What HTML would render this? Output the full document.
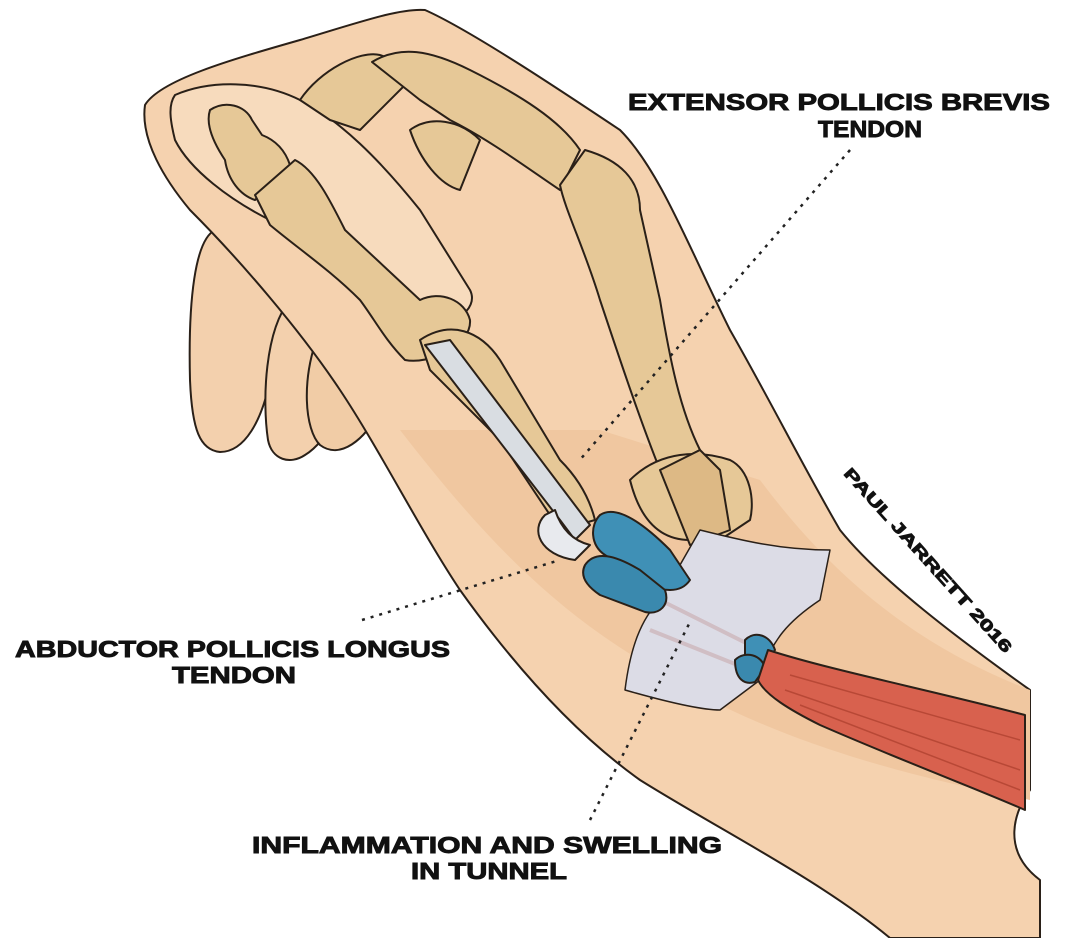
<!DOCTYPE html>
<html><head><meta charset="utf-8"><style>
html,body{margin:0;padding:0;background:#fff;width:1079px;height:938px;overflow:hidden}
svg{display:block}
text{font-family:"Liberation Sans",sans-serif;font-weight:bold;fill:#111}
</style></head><body>
<svg width="1079" height="938" viewBox="0 0 1079 938" xmlns="http://www.w3.org/2000/svg">
<g stroke="#2a2018" stroke-width="2" stroke-linejoin="round">
<path d="M215,230 C195,240 188,300 190,380 C192,430 200,450 220,452 C245,452 262,420 270,380 L300,300 C290,250 250,220 215,230Z" fill="#f3d0ad"/>
<path d="M290,300 C265,330 262,400 268,440 C272,460 290,465 305,455 C330,440 345,400 360,360 Z" fill="#f3d0ad"/>
<path d="M320,330 C300,380 305,430 320,445 C340,460 365,440 380,410 L370,340Z" fill="#f1cca6"/>
<path d="M145,105 C160,80 230,60 300,40 C360,22 400,8 425,10 C470,30 560,90 620,130 C660,170 690,250 730,330 C770,400 805,470 840,530 C880,580 960,640 1030,690 L1030,790 C1015,810 1000,850 1040,880 L1040,938 L890,938 C820,880 720,830 640,780 C570,730 510,660 460,590 C420,530 380,450 340,390 C300,330 240,260 190,210 C165,180 140,140 145,105Z" fill="#f5d2af"/>
<path d="M175,95 C210,80 260,80 300,100 C340,120 380,160 420,210 L470,290 C480,310 450,330 420,320 C380,300 320,250 270,220 C230,200 190,170 175,140 C170,120 168,105 175,95Z" fill="#f7dbbd"/>
<path d="M400,430 C470,520 540,600 640,660 C720,710 820,760 1030,800 L1030,690 C900,640 820,560 760,480 L600,430Z" fill="#f0c7a0" stroke="none"/>
<g fill="#e6c897">
<path d="M210,110 C225,100 245,105 252,120 L262,135 C275,140 285,150 290,165 L255,200 C240,195 228,180 225,160 C215,145 205,125 210,110Z"/>
<path d="M255,195 L295,160 C315,170 330,200 345,230 L420,300 C440,290 465,300 470,320 C472,345 430,365 405,360 C385,340 375,320 360,300 C330,270 300,250 270,225Z"/>
<path d="M300,100 C320,70 360,50 380,55 L420,70 C400,90 380,110 360,130 L330,120Z"/>
<path d="M372,62 C400,45 430,50 470,70 C520,95 560,120 580,150 L560,190 C530,170 490,140 450,120 L420,100Z"/>
<path d="M560,185 L585,150 C620,160 640,180 640,210 L660,300 C670,360 680,410 700,450 L660,470 C640,420 620,360 600,300 C585,250 565,210 560,185Z"/>
<path d="M410,130 C430,115 460,120 480,140 L460,190 C440,185 420,160 410,130Z"/>
<path d="M420,340 C450,320 480,330 500,360 L560,460 C580,480 590,500 595,520 L560,530 C540,500 520,470 500,440 L430,370Z"/>
<path d="M630,480 C660,450 700,450 730,460 C750,470 755,500 750,520 L720,540 L690,540 C660,540 640,520 630,480Z"/>
<path d="M660,470 L700,450 L720,470 L730,530 L690,545Z" fill="#ddb985"/>
</g>
<path d="M425,345 L560,520 L575,540 L590,525 L450,340Z" fill="#d9dde2"/>
<path d="M545,515 C530,530 540,555 575,560 L590,545 C570,540 560,525 555,510Z" fill="#e8eaee"/>
<path d="M700,530 C740,540 780,550 830,550 L820,600 C790,620 770,640 760,680 L720,710 C700,710 660,700 625,690 C630,650 640,620 660,600Z" fill="#dcdce6" stroke-width="1.5"/>
<path d="M660,600 L760,650 M650,630 L750,670" stroke="#b88" stroke-width="4" opacity="0.35"/>
<path d="M600,515 C615,505 640,520 670,550 L690,580 C680,595 660,590 650,585 L605,555 C590,545 590,525 600,515Z" fill="#3f90b6"/>
<path d="M585,565 C595,550 615,555 640,570 L665,590 C670,605 660,615 645,612 L600,595 C585,585 580,575 585,565Z" fill="#3a89ae"/>
<path d="M745,640 C755,630 770,635 775,650 L765,665 L745,660Z" fill="#3f90b6"/>
<path d="M735,660 C745,650 762,655 765,668 L755,682 C745,685 735,680 735,660Z" fill="#3a89ae"/>
<path d="M768,650 C830,670 930,690 1025,715 L1025,810 C980,790 900,760 820,725 C790,710 765,695 758,680Z" fill="#d8614e"/>
<path d="M790,675 L1020,740 M785,690 L1020,770 M800,705 L1020,790" stroke="#b84836" stroke-width="1.5" fill="none"/>
</g>
<g stroke="#222" stroke-width="2.5" stroke-dasharray="3,6" fill="none">
<path d="M850,150 L578,462"/>
<path d="M362,620 L560,560"/>
<path d="M590,820 L690,622"/>
</g>
<g stroke="#111" stroke-width="0.9">
<text x="628" y="110" font-size="23" textLength="422" lengthAdjust="spacingAndGlyphs">EXTENSOR POLLICIS BREVIS</text>
<text x="818" y="137" font-size="23" textLength="104" lengthAdjust="spacingAndGlyphs">TENDON</text>
<text x="15" y="657" font-size="23" textLength="435" lengthAdjust="spacingAndGlyphs">ABDUCTOR POLLICIS LONGUS</text>
<text x="172" y="683" font-size="23" textLength="124" lengthAdjust="spacingAndGlyphs">TENDON</text>
<text x="252" y="853" font-size="23" textLength="470" lengthAdjust="spacingAndGlyphs">INFLAMMATION AND SWELLING</text>
<text x="411" y="879" font-size="23" textLength="156" lengthAdjust="spacingAndGlyphs">IN TUNNEL</text>
<text x="0" y="0" font-size="16" textLength="242" lengthAdjust="spacingAndGlyphs" transform="translate(843,474) rotate(48)">PAUL JARRETT 2016</text>
</g>
</svg>
</body></html>
